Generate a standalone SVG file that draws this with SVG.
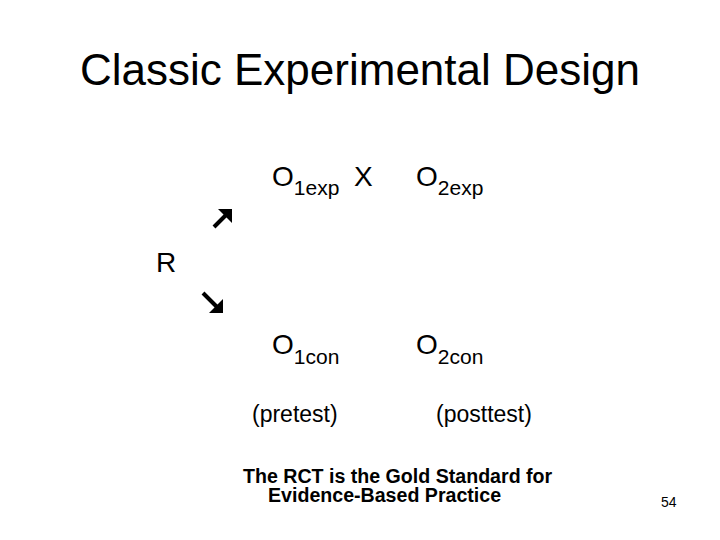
<svg xmlns="http://www.w3.org/2000/svg" width="720" height="540" viewBox="0 0 720 540">
<style>
text{font-family:"Liberation Sans",Arial,sans-serif;fill:#000}
.t{font-size:44px}
.m{font-size:28px}
.s{font-size:21px}
.p{font-size:23px}
.b{font-size:19.6px;font-weight:bold}
.arr{stroke:#000;stroke-width:4;fill:none}
</style>
<rect width="720" height="540" fill="#fff"/>
<text class="t" x="360" y="85" text-anchor="middle">Classic Experimental Design</text>
<g id="R"><text class="m" x="156" y="272">R</text></g>
<g id="connectors">
<line class="arr" x1="214" y1="227" x2="228" y2="213"/>
<polygon points="218,209 232,209 232,223"/>
<line class="arr" x1="203" y1="293" x2="217" y2="307"/>
<polygon points="223,299 223,313 209,313"/>
</g>
<g id="O1exp"><text class="m" x="272" y="186">O<tspan class="s" dy="9">1exp</tspan></text></g>
<g id="X"><text class="m" x="354" y="186">X</text></g>
<g id="O2exp"><text class="m" x="416" y="186">O<tspan class="s" dy="9">2exp</tspan></text></g>
<g id="O1con"><text class="m" x="272" y="354">O<tspan class="s" dy="10">1con</tspan></text></g>
<g id="O2con"><text class="m" x="416" y="354">O<tspan class="s" dy="10">2con</tspan></text></g>
<g id="pretest"><text class="p" x="252" y="422">(pretest)</text></g>
<g id="posttest"><text class="p" x="436" y="422">(posttest)</text></g>
<g id="note">
<text class="b" x="243" y="483">The RCT is the Gold Standard for</text>
<text class="b" x="268" y="502">Evidence-Based Practice</text>
</g>
<text x="661" y="507" font-size="14">54</text>
</svg>
